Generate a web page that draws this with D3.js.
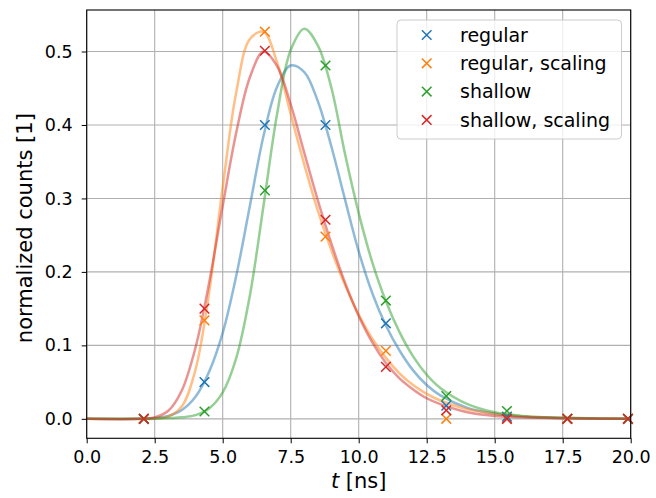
<!DOCTYPE html>
<html>
<head>
<meta charset="utf-8">
<script src="https://cdn.jsdelivr.net/npm/d3@7"></script>
<style>
  body { margin: 0; background: #fff; }
  svg { font-family: "DejaVu Sans", sans-serif; }
</style>
</head>
<body>
<script>
var width = 656, height = 498;
var margin = {top: 10, right: 25.3, bottom: 59.7, left: 86.7};

// measured points (t in ns)
var markerT = [2.1, 4.33, 6.55, 8.78, 11.0, 13.22, 15.45, 17.67, 19.9];
var regular = [0, 0.05, 0.40, 0.40, 0.13, 0.018, 0.003, 0, 0];
var regularScaling = [0, 0.134, 0.527, 0.248, 0.0925, 0.0, 0, 0, 0];
var shallow = [0, 0.01, 0.311, 0.481, 0.161, 0.031, 0.0107, 0, 0];
var shallowScaling = [0, 0.15, 0.501, 0.271, 0.0707, 0.0116, 0, 0, 0];

// fitted curves
var curveT = [0, 2, 2.5, 3, 3.5, 4, 4.5, 5, 5.5, 6, 6.5, 7, 7.5, 8, 8.5, 9, 9.5, 10, 10.5, 11, 11.5, 12, 12.5, 13, 14, 15, 16, 17, 18, 20];
var regularFit = [0, 0, 0.001, 0.004, 0.012, 0.03, 0.064, 0.117, 0.195, 0.29, 0.385, 0.452, 0.481, 0.472, 0.432, 0.37, 0.298, 0.228, 0.171, 0.127, 0.093, 0.066, 0.046, 0.032, 0.015, 0.007, 0.003, 0.0015, 0.0007, 0];
var regularScalingFit = [0, 0, 0.0005, 0.003, 0.017, 0.067, 0.172, 0.315, 0.445, 0.517, 0.527, 0.485, 0.415, 0.346, 0.283, 0.229, 0.182, 0.142, 0.109, 0.083, 0.062, 0.046, 0.034, 0.025, 0.013, 0.007, 0.0035, 0.0017, 0.0008, 0];
var shallowFit = [0, 0, 0, 0.001, 0.002, 0.005, 0.014, 0.036, 0.083, 0.168, 0.29, 0.415, 0.502, 0.531, 0.508, 0.45, 0.36, 0.28, 0.213, 0.16, 0.118, 0.085, 0.06, 0.042, 0.02, 0.009, 0.004, 0.002, 0.001, 0];
var shallowScalingFit = [0, 0, 0.002, 0.011, 0.039, 0.097, 0.185, 0.29, 0.39, 0.465, 0.5, 0.48, 0.428, 0.362, 0.297, 0.238, 0.185, 0.14, 0.104, 0.076, 0.055, 0.04, 0.028, 0.02, 0.009, 0.004, 0.002, 0.001, 0.0005, 0];

var seriesNames = ["regular", "regular, scaling", "shallow", "shallow, scaling"];
var colors = ["#1f77b4", "#ff7f0e", "#2ca02c", "#d62728"];
var pointSets = [regular, regularScaling, shallow, shallowScaling];
var fitSets = [regularFit, regularScalingFit, shallowFit, shallowScalingFit];

var xTicks = [0, 2.5, 5, 7.5, 10, 12.5, 15, 17.5, 20];
var yTicks = [0, 0.1, 0.2, 0.3, 0.4, 0.5];

var svg = d3.select("body").append("svg")
    .attr("width", width)
    .attr("height", height);

var x = d3.scaleLinear()
    .domain([0, 20])
    .range([margin.left, width - margin.right]);

var y = d3.scaleLinear()
    .domain([-0.0265, 0.5565])
    .range([height - margin.bottom, margin.top]);

// grid
svg.append("g")
    .selectAll("line")
    .data(xTicks)
    .enter().append("line")
        .attr("x1", d => x(d)).attr("x2", d => x(d))
        .attr("y1", y.range()[0]).attr("y2", y.range()[1])
        .attr("stroke", "#b0b0b0").attr("stroke-width", 1.1);

svg.append("g")
    .selectAll("line")
    .data(yTicks)
    .enter().append("line")
        .attr("x1", x.range()[0]).attr("x2", x.range()[1])
        .attr("y1", d => y(d)).attr("y2", d => y(d))
        .attr("stroke", "#b0b0b0").attr("stroke-width", 1.1);

// fitted lines
var line = d3.line()
    .x(d => x(d[0]))
    .y(d => y(d[1]))
    .curve(d3.curveCatmullRom.alpha(0.5));

var plot = svg.append("g");

fitSets.forEach(function(vals, i) {
    plot.append("path")
        .datum(curveT.map((t, j) => [t, vals[j]]))
        .attr("d", line)
        .attr("fill", "none")
        .attr("stroke", colors[i])
        .attr("stroke-opacity", 0.5)
        .attr("stroke-width", 2.5);
});

// x markers
var ms = 4.8;
function cross(sel, color) {
    sel.append("path")
        .attr("d", "M" + (-ms) + "," + (-ms) + "L" + ms + "," + ms + "M" + (-ms) + "," + ms + "L" + ms + "," + (-ms))
        .attr("stroke", color)
        .attr("stroke-width", 1.5)
        .attr("fill", "none");
}

pointSets.forEach(function(vals, i) {
    var g = plot.append("g").selectAll("g")
        .data(markerT.map((t, j) => [t, vals[j]]))
        .enter().append("g")
            .attr("transform", d => "translate(" + x(d[0]) + "," + y(d[1]) + ")");
    cross(g, colors[i]);
});

// axes
var xAxis = svg.append("g")
    .attr("transform", "translate(0," + y.range()[0] + ")")
    .call(d3.axisBottom(x).tickValues(xTicks).tickFormat(d3.format(".1f")).tickSize(5).tickPadding(7));

var yAxis = svg.append("g")
    .attr("transform", "translate(" + x.range()[0] + ",0)")
    .call(d3.axisLeft(y).tickValues(yTicks).tickFormat(d3.format(".1f")).tickSize(5).tickPadding(9));

[xAxis, yAxis].forEach(function(a) {
    a.select(".domain").remove();
    a.selectAll(".tick line").attr("stroke", "#000").attr("stroke-width", 1);
    a.selectAll(".tick text")
        .attr("fill", "#000")
        .style("font-size", "17.5px")
        .style("font-family", "DejaVu Sans");
});

// frame
svg.append("rect")
    .attr("x", x.range()[0]).attr("y", y.range()[1])
    .attr("width", x.range()[1] - x.range()[0])
    .attr("height", y.range()[0] - y.range()[1])
    .attr("fill", "none")
    .attr("stroke", "#000")
    .attr("stroke-width", 1.1);

// axis labels
var xl = svg.append("text")
    .attr("x", (x.range()[0] + x.range()[1]) / 2)
    .attr("y", 488)
    .attr("text-anchor", "middle")
    .style("font-size", "21px");
xl.append("tspan").style("font-style", "italic").text("t");
xl.append("tspan").text(" [ns]");

svg.append("text")
    .attr("transform", "translate(32," + ((y.range()[0] + y.range()[1]) / 2 + 4) + ") rotate(-90)")
    .attr("text-anchor", "middle")
    .style("font-size", "21px")
    .text("normalized counts [1]");

// legend
var legend = svg.append("g");
legend.append("rect")
    .attr("x", 397).attr("y", 20)
    .attr("width", 224.5).attr("height", 119)
    .attr("rx", 4)
    .attr("fill", "#fff").attr("fill-opacity", 0.8)
    .attr("stroke", "#cccccc").attr("stroke-width", 1);

seriesNames.forEach(function(name, i) {
    var row = legend.append("g")
        .attr("transform", "translate(0," + (35 + i * 28.3) + ")");
    var m = row.append("g").attr("transform", "translate(426.7,0)");
    cross(m, colors[i]);
    row.append("text")
        .attr("x", 460)
        .attr("y", 0)
        .attr("dy", "0.35em")
        .style("font-size", "19px")
        .text(name);
});
</script>
</body>
</html>
